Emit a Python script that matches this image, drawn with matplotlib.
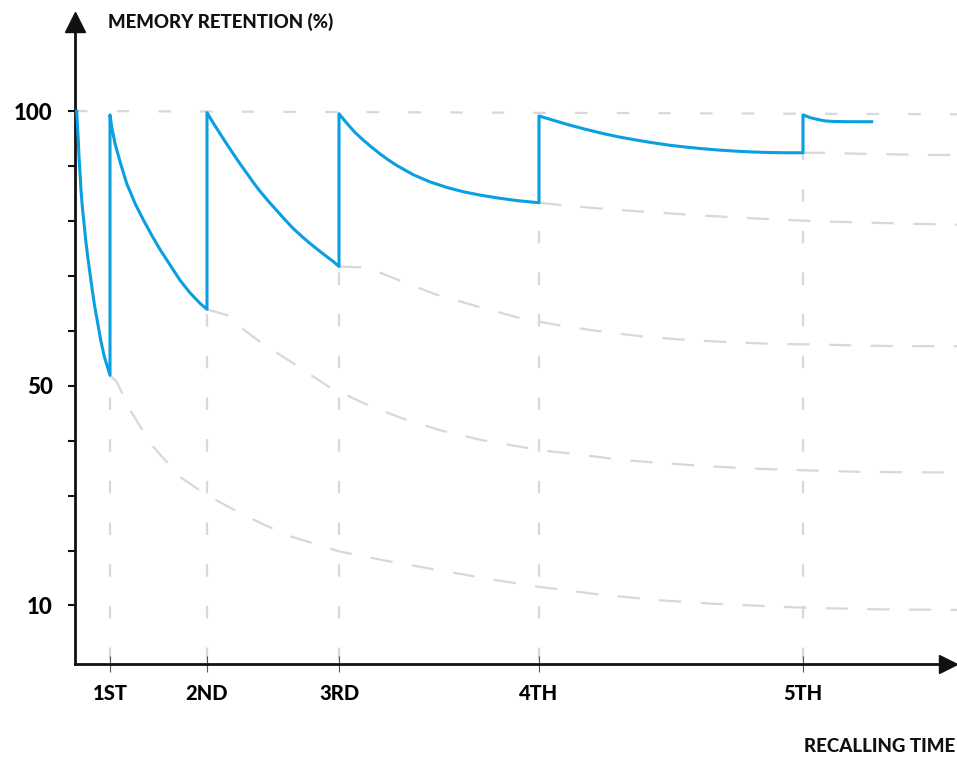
import matplotlib.pyplot as plt

plt.rcParams['font.family'] = ['Lato', 'DejaVu Sans']
plt.rcParams['lines.scale_dashes'] = False

## recall moments (x in arbitrary time units)
recall_x = [3.5, 13.2, 26.4, 46.4, 72.8]
recall_labels = ['1ST', '2ND', '3RD', '4TH', '5TH']
recall_low = [51.9, 63.9, 71.7, 83.3, 92.4]

ytick_vals = [10, 20, 30, 40, 50, 60, 70, 80, 90, 100]
ytick_labels = ['10', '', '', '', '50', '', '', '', '', '100']

## blue retention curve, one piece per recall
seg1_x = [0.17, 0.23, 0.33, 0.4, 0.5, 0.6, 0.73, 0.9, 1.07, 1.27, 1.5, 1.73, 1.97, 2.27, 2.57, 2.93, 3.5]
seg1_y = [100, 97.8, 94.7, 91.7, 88.7, 85.6, 82.6, 79.6, 76.5, 73.5, 70.4, 67.4, 64.4, 61.4, 58.3, 55.3, 51.9]
seg2_x = [3.5, 3.67, 4.0, 4.5, 5.17, 6.0, 6.83, 7.67, 8.5, 9.5, 10.5, 11.5, 12.5, 13.2]
seg2_y = [99.3, 97.1, 94.1, 90.8, 86.8, 83.2, 80.2, 77.4, 74.8, 72.0, 69.2, 66.9, 65.0, 63.9]
seg3_x = [13.2, 13.83, 14.5, 15.17, 15.83, 16.5, 17.17, 17.83, 18.5, 19.33, 20.17, 21.0, 21.83, 22.67,
          23.5, 24.33, 25.17, 25.83, 26.4]
seg3_y = [99.7, 97.8, 95.9, 94.0, 92.2, 90.4, 88.7, 87.0, 85.4, 83.6, 81.9, 80.2, 78.6, 77.2,
          75.9, 74.7, 73.5, 72.6, 71.7]
seg4_x = [26.4, 27.17, 28.0, 28.83, 29.67, 30.5, 31.33, 32.17, 33.83, 35.5, 37.17, 38.83, 40.5, 42.17, 44.17, 46.4]
seg4_y = [99.5, 97.8, 96.1, 94.7, 93.4, 92.2, 91.1, 90.1, 88.4, 87.1, 86.1, 85.3, 84.7, 84.2, 83.7, 83.3]
seg5_x = [46.4, 47.67, 49.33, 51.0, 52.67, 54.33, 56.0, 57.67, 59.33, 61.0, 62.67, 64.33, 66.0,
          67.67, 69.33, 71.0, 72.8]
seg5_y = [99.1, 98.4, 97.5, 96.7, 95.95, 95.3, 94.75, 94.25, 93.8, 93.45, 93.15, 92.9, 92.7,
          92.55, 92.45, 92.4, 92.4]
seg6_x = [72.8, 73.5, 74.17, 75.0, 75.83, 77.5, 79.67]
seg6_y = [99.3, 98.8, 98.5, 98.2, 98.1, 98.05, 98.05]

## gray dashed curves: forgetting without the next recall
fade1_x = [3.5, 4.17, 5.5, 7.67, 10.5, 13.17, 16.83, 21.17, 26.5, 31.5, 36.5, 41.5, 46.4, 52.0, 58.0, 64.0, 72.8, 80.0, 88.2]
fade1_y = [51.9, 50.7, 45.6, 39.2, 33.4, 30.1, 26.5, 22.8, 19.8, 18.0, 16.4, 14.8, 13.4, 12.1, 11.0, 10.3, 9.6, 9.3, 9.2]

fade2_x = [13.2, 15.5, 16.8, 18.5, 21.8, 25.3, 29.0, 32.8, 36.7, 40.7, 46.4, 50.7, 54.7, 58.8, 62.8, 66.8, 71.0, 75.0, 79.0, 88.2]
fade2_y = [63.9, 62.7, 60.3, 58.0, 54.1, 49.9, 46.7, 44.0, 41.8, 40.1, 38.3, 37.4, 36.5, 35.9, 35.4, 35.0, 34.7, 34.5, 34.3, 34.2]

fade3_x = [26.4, 29.3, 32.1, 36.1, 40.3, 44.5, 48.7, 52.9, 57.1, 61.4, 65.7, 70.0, 74.3, 78.6, 82.9, 88.2]
fade3_y = [71.7, 71.5, 69.4, 66.6, 64.4, 62.3, 60.9, 59.8, 58.9, 58.3, 57.9, 57.6, 57.5, 57.3, 57.2, 57.2]

fade4_x = [46.4, 50.2, 54.3, 58.3, 62.5, 66.5, 70.7, 74.8, 79.0, 83.0, 88.2]
fade4_y = [83.3, 82.6, 82.0, 81.5, 81.0, 80.6, 80.2, 79.9, 79.7, 79.5, 79.3]

fade5_x = [72.8, 75.0, 78.7, 82.3, 85.8, 88.2]
fade5_y = [92.4, 92.4, 92.2, 92.1, 92.0, 92.0]

top_x = [0, 42.5, 88.2]
top_y = [100, 99.7, 99.4]

BLUE = '#0a9fe0'
GRAY = '#d8d8d8'
INK = '#111111'
WEIGHT = 900

W, H = 957, 758
fig = plt.figure(figsize=(W / 100, H / 100), dpi=100)
ax = fig.add_axes([75 / W, 1 - 664 / H, (948.5 - 75) / W, (664 - 22) / H])
ax.set_xlim(0, 87.35)
ax.set_ylim(-0.65, 116.2)

## gray guide lines
ax.plot(top_x, top_y, color=GRAY, lw=1.6, dashes=(9, 21), clip_on=False, zorder=1)
for xr, yl in zip(recall_x, recall_low):
	ax.plot([xr, xr], [0, yl], color=GRAY, lw=1.6, dashes=(9, 21), zorder=1)
for fx, fy in [(fade1_x, fade1_y), (fade2_x, fade2_y), (fade3_x, fade3_y),
			   (fade4_x, fade4_y), (fade5_x, fade5_y)]:
	ax.plot(fx, fy, color=GRAY, lw=1.6, dashes=(16, 14), clip_on=False, zorder=1)

## retention curve, segments joined by the vertical jumps
blue_x = seg1_x + seg2_x + seg3_x + seg4_x + seg5_x + seg6_x
blue_y = seg1_y + seg2_y + seg3_y + seg4_y + seg5_y + seg6_y
ax.plot(blue_x, blue_y, color=BLUE, lw=2.2, solid_joinstyle='round', zorder=3)

## axes look
for s in ['top', 'right']:
	ax.spines[s].set_visible(False)
for s in ['left', 'bottom']:
	ax.spines[s].set_color(INK)
	ax.spines[s].set_linewidth(2)
ax.plot([0], [1], marker='^', ms=14, color=INK, transform=ax.transAxes, clip_on=False)
ax.plot([1], [0], marker='>', ms=13, color=INK, transform=ax.transAxes, clip_on=False)

ax.set_yticks(ytick_vals)
ax.set_yticklabels(ytick_labels, fontsize=16, fontweight=WEIGHT)
ax.tick_params(axis='y', direction='out', length=5, width=1.5, color=INK, pad=11)

ax.set_xticks(recall_x)
ax.set_xticklabels(recall_labels, fontsize=14.5, fontweight=WEIGHT)
ax.tick_params(axis='x', direction='inout', length=11, width=0.8, color='#555555', pad=9)

fig.text(108 / W, 1 - 22 / H, 'MEMORY RETENTION (%)', ha='left', va='center',
		 fontsize=13.4, fontweight=WEIGHT, color=INK)
fig.text(955 / W, 1 - 747 / H, 'RECALLING TIME', ha='right', va='center',
		 fontsize=13.5, fontweight=WEIGHT, color=INK)

fig.savefig('out.png', dpi=100)
